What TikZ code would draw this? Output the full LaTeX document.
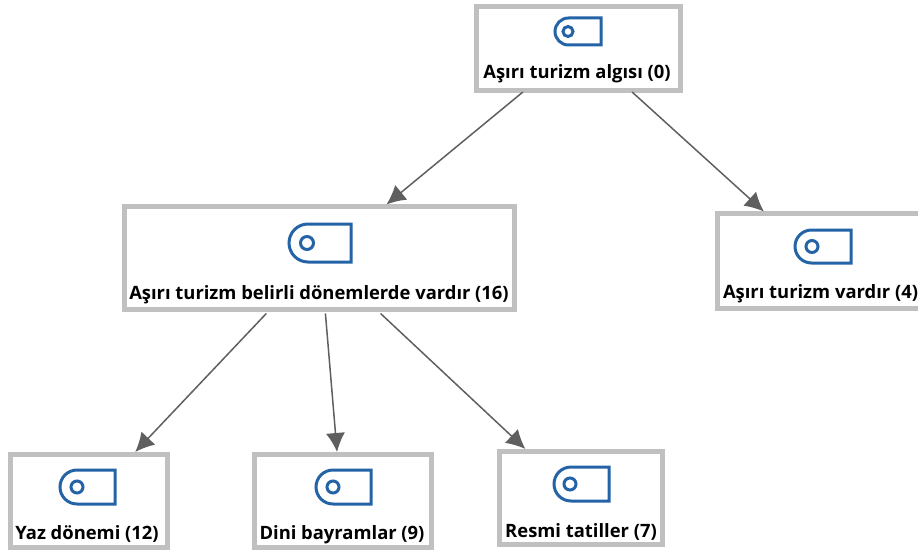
\documentclass[tikz,border=0pt]{standalone}
\usepackage{fontspec}
\setmainfont{Open Sans}
\usetikzlibrary{arrows.meta,calc}
\definecolor{boxgray}{RGB}{192,192,192}
\definecolor{iconblue}{RGB}{36,100,166}
\definecolor{edgegray}{RGB}{95,95,95}
\tikzset{
  x=1pt,y=-1pt,
  box/.style={draw=boxgray,fill=white,line width=5pt,minimum width=#1,inner sep=0pt,outer sep=2pt},
  lbl/.style={font=\bfseries\fontsize{18.4}{20}\selectfont,text=black,inner sep=0pt},
  link/.style={draw=edgegray,line width=1.5pt,-{Latex[length=19pt,width=19pt]}},
  iconline/.style={draw=iconblue,line width=3pt,line join=miter}
}
% #1 left, #2 top, #3 right, #4 bottom, #5 circle cx, #6 circle r, #7 corner r
\newcommand{\tagicon}[7]{%
  \draw[iconline] (#3,#2) -- (#3,#4) -- ({#1+#7},#4) arc[start angle=90,end angle=270,radius=#7,y radius=#7] -- cycle;
  \draw[iconline] (#5,{(#2+#4)/2}) circle[radius=#6];
}
\begin{document}
\begin{tikzpicture}
\useasboundingbox (0,0) rectangle (918,551);
\node[box,minimum width=204pt,minimum height=83pt] (root) at (578,48.5) {};
\node[box,line width=5.5pt,minimum width=390pt,minimum height=103pt] (mid) at (319.5,258) {};
\node[box,minimum width=204pt,minimum height=95pt] (right) at (819,261) {};
\node[box,minimum width=157pt,minimum height=93pt] (yaz) at (88.5,500.5) {};
\node[box,minimum width=177pt,minimum height=93pt] (dini) at (342.5,500.5) {};
\node[box,minimum width=163pt,minimum height=93pt] (resmi) at (580.5,497.5) {};

\tagicon{555}{18}{601}{45}{568}{5}{13.5}
\tagicon{289}{224}{351}{262}{307}{6.5}{19}
\tagicon{795}{230}{851}{263}{812}{6}{16.5}
\tagicon{60}{470}{115}{504}{77}{6}{17}
\tagicon{316}{470}{371}{504}{333}{6}{17}
\tagicon{554}{467}{609}{501}{570}{6}{17}

\node[lbl] (troot) at (577,74) {Aşırı turizm algısı (0)};
\node[lbl] (tmid) at (319,295) {Aşırı turizm belirli dönemlerde vardır (16)};
\node[lbl] (tright) at (820.5,294) {Aşırı turizm vardır (4)};
\node[lbl] (tyaz) at (87,534) {Yaz dönemi (12)};
\node[lbl] (tdini) at (342,535) {Dini bayramlar (9)};
\node[lbl] (tresmi) at (581,532) {Resmi tatiller (7)};

\draw[link] ($(root.south west)!0.235!(root.south east)$) -- ($(mid.north west)!0.67!(mid.north east)$);
\draw[link] ($(root.south west)!0.76!(root.south east)$) -- ($(right.north west)!0.235!(right.north east)$);
\draw[link] ($(mid.south west)!0.365!(mid.south east)+(0,2)$) -- ($(yaz.north west)!0.79!(yaz.north east)$);
\draw[link] ($(mid.south west)!0.515!(mid.south east)+(0,2)$) -- ($(dini.north west)!0.47!(dini.north east)$);
\draw[link] ($(mid.south west)!0.655!(mid.south east)+(0,2)$) -- ($(resmi.north west)!0.17!(resmi.north east)$);
\end{tikzpicture}
\end{document}
